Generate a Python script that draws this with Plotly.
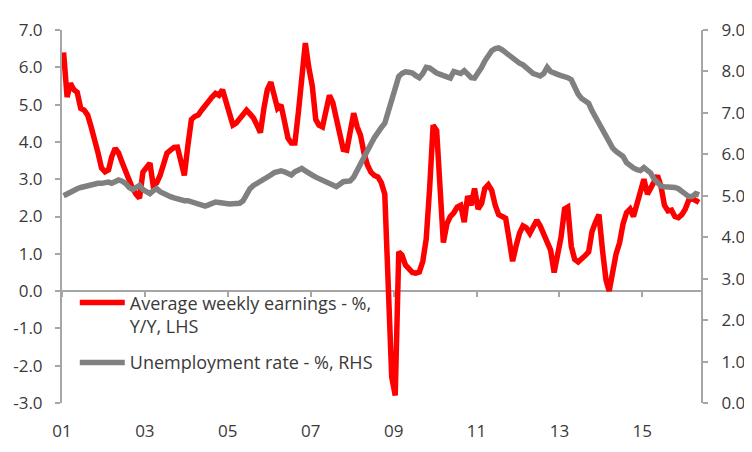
import pandas as pd
import plotly.graph_objects as go

# Average weekly earnings, % Y/Y (LHS), monthly from Jan 2001
awe = [
    6.4, 5.2, 5.57, 5.4, 5.33, 4.9, 4.85, 4.72, 4.4, 4.1, 3.7, 3.3,        # 2001
    3.2, 3.25, 3.6, 3.83, 3.7, 3.45, 3.2, 2.95, 2.75, 2.6, 2.49, 3.19,     # 2002
    3.3, 3.43, 2.84, 2.9, 3.1, 3.38, 3.7, 3.78, 3.85, 3.86, 3.5, 3.1,      # 2003
    3.9, 4.6, 4.68, 4.72, 4.85, 4.99, 5.1, 5.2, 5.3, 5.25, 5.4, 5.05,      # 2004
    4.7, 4.45, 4.5, 4.6, 4.75, 4.85, 4.75, 4.64, 4.45, 4.25, 4.9, 5.4,     # 2005
    5.6, 5.2, 4.9, 4.99, 4.6, 4.1, 3.97, 3.97, 4.8, 5.8, 6.65, 6.0,        # 2006
    5.5, 4.6, 4.45, 4.4, 4.8, 5.25, 5.05, 4.6, 4.2, 3.8, 3.78, 4.2,        # 2007
    4.77, 4.4, 4.18, 3.7, 3.38, 3.19, 3.1, 3.06, 2.9, 2.6, 0.5, -2.3,      # 2008
    -2.8, 1.05, 0.97, 0.7, 0.6, 0.5, 0.48, 0.51, 0.8, 1.4, 2.8, 4.45,      # 2009
    4.3, 2.6, 1.3, 1.8, 2.0, 2.1, 2.25, 2.3, 1.85, 2.55, 2.3, 2.75,        # 2010
    2.2, 2.35, 2.75, 2.85, 2.7, 2.3, 2.05, 2.0, 1.95, 1.4, 0.8, 1.2,       # 2011
    1.55, 1.75, 1.7, 1.55, 1.75, 1.9, 1.75, 1.5, 1.3, 1.1, 0.5, 0.95,      # 2012
    1.45, 2.2, 2.25, 1.2, 0.85, 0.78, 0.85, 0.95, 1.05, 1.6, 1.85, 2.05,   # 2013
    1.1, 0.3, 0.0, 0.6, 1.0, 1.3, 1.8, 2.1, 2.2, 2.0, 2.3, 2.65,           # 2014
    3.0, 2.6, 2.75, 2.95, 3.1, 2.8, 2.3, 2.15, 2.17, 2.0, 1.97, 2.05,      # 2015
    2.2, 2.45, 2.48, 2.43, 2.38,                                           # 2016
]

# Unemployment rate, % (RHS)
unemp = [
    5.0, 5.05, 5.1, 5.15, 5.17, 5.2, 5.22, 5.25, 5.28, 5.3, 5.3, 5.3,
    5.32, 5.33, 5.3, 5.35, 5.38, 5.35, 5.3, 5.2, 5.15, 5.2, 5.25, 5.15,
    5.08, 5.05, 5.12, 5.17, 5.1, 5.05, 5.0, 4.98, 4.95, 4.92, 4.9, 4.88,
    4.88, 4.86, 4.84, 4.8, 4.77, 4.75, 4.78, 4.82, 4.85, 4.84, 4.82, 4.83,
    4.8, 4.81, 4.8, 4.82, 4.88, 5.05, 5.17, 5.25, 5.3, 5.33, 5.38, 5.42,
    5.5, 5.56, 5.58, 5.6, 5.58, 5.55, 5.5, 5.58, 5.64, 5.66, 5.6, 5.53,
    5.5, 5.45, 5.41, 5.38, 5.36, 5.3, 5.26, 5.22, 5.28, 5.34, 5.35, 5.36,
    5.45, 5.6, 5.75, 5.95, 6.1, 6.25, 6.4, 6.55, 6.65, 6.75, 7.05, 7.4,
    7.7, 7.88, 7.95, 7.99, 7.98, 7.96, 7.9, 7.85, 7.95, 8.1, 8.08, 8.01,
    7.96, 7.93, 7.9, 7.87, 7.84, 8.0, 7.97, 7.95, 8.02, 7.92, 7.85, 7.84,
    7.95, 8.1, 8.25, 8.4, 8.5, 8.55, 8.57, 8.52, 8.45, 8.38, 8.3, 8.25,
    8.2, 8.16, 8.08, 8.0, 7.95, 7.92, 7.89, 7.95, 8.1, 8.0, 7.95, 7.93,
    7.9, 7.89, 7.85, 7.8, 7.6, 7.45, 7.35, 7.3, 7.23, 7.05, 6.9, 6.75,
    6.55, 6.4, 6.27, 6.15, 6.07, 6.0, 5.95, 5.8, 5.72, 5.67, 5.63, 5.61,
    5.68, 5.62, 5.55, 5.4, 5.3, 5.23, 5.22, 5.22, 5.22, 5.2, 5.17, 5.1,
    5.05, 4.98, 4.98, 5.05, 5.02,
]

months = pd.date_range("2001-01-01", periods=len(awe), freq="MS") + pd.Timedelta(days=14)

left_ticks = [-3, -2, -1, 0, 1, 2, 3, 4, 5, 6, 7]
right_ticks = [0, 1, 2, 3, 4, 5, 6, 7, 8, 9]
left_labels = [f"{v:.1f}" for v in left_ticks]
right_labels = [f"{v:.1f}" for v in right_ticks]

x_range = ["2001-01-01", "2016-06-01"]

axis_grey = "#a6a6a6"
text_grey = "#3a3a3a"

fig = go.Figure()
fig.add_trace(go.Scatter(
    x=months, y=awe, mode="lines",
    name="Average weekly earnings - %,<br>Y/Y, LHS",
    line=dict(color="#ff0000", width=5.5),
    legendgroup="awe",
))
fig.add_trace(go.Scatter(
    x=months, y=unemp, mode="lines", yaxis="y2",
    name="Unemployment rate - %, RHS",
    line=dict(color="#808080", width=5.5),
    legendgroup="unemp",
))
# dummy trace so the zero-line axis (x2) gets drawn
fig.add_trace(go.Scatter(x=[months[0]], y=[None], xaxis="x2", showlegend=False, hoverinfo="skip"))

# page body has an 8px margin, so the figure is made 8px smaller
fig.update_layout(
    width=744, height=444,
    margin=dict(l=54, r=51, t=22, b=49, autoexpand=False),
    paper_bgcolor="white", plot_bgcolor="white",
    font=dict(family="Open Sans", size=17, color=text_grey),
    showlegend=True,
    legend=dict(
        x=0.02, y=0.318, xanchor="left", yanchor="top",
        bgcolor="rgba(0,0,0,0)", tracegroupgap=10, valign="top",
        itemwidth=45,
        font=dict(size=18, color=text_grey),
    ),
    xaxis=dict(
        type="date", range=x_range, tick0="2001-01-01", dtick="M24",
        tickformat="%y", showline=False, ticks="", showgrid=False,
        zeroline=False, ticklabelstandoff=16,
    ),
    xaxis2=dict(
        type="date", overlaying="x", anchor="free", position=0.3,
        matches="x", tick0="2001-01-01", dtick="M24",
        showticklabels=False, ticks="outside", ticklen=5, tickwidth=1.5,
        tickcolor=axis_grey, showline=True, linecolor=axis_grey, linewidth=2,
        showgrid=False, zeroline=False, layer="below traces",
    ),
    yaxis=dict(
        range=[-3, 7], tickvals=left_ticks, ticktext=left_labels,
        showline=True, linecolor=axis_grey, linewidth=2,
        ticks="outside", ticklen=5, tickwidth=1.5, tickcolor=axis_grey,
        showgrid=False, zeroline=False, ticklabelstandoff=9, automargin=False,
    ),
    yaxis2=dict(
        overlaying="y", side="right", range=[0, 9],
        tickvals=right_ticks, ticktext=right_labels,
        showline=True, linecolor=axis_grey, linewidth=2,
        ticks="outside", ticklen=5, tickwidth=1.5, tickcolor=axis_grey,
        showgrid=False, zeroline=False, ticklabelstandoff=10, automargin=False,
    ),
)

fig.write_html("out.html")
